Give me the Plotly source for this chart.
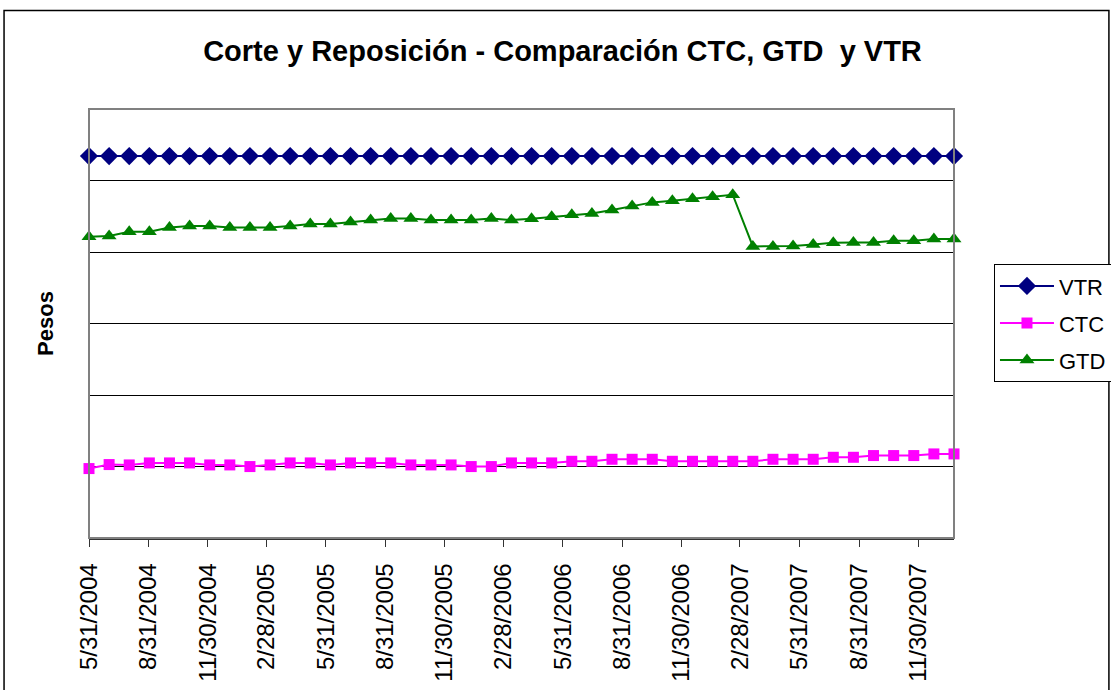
import plotly.graph_objects as go

dates = [
    "2004-05-31", "2004-07-01", "2004-08-01", "2004-09-01", "2004-10-02", "2004-11-02",
    "2004-12-03", "2005-01-03", "2005-02-03", "2005-03-06", "2005-04-06", "2005-05-07",
    "2005-06-07", "2005-07-08", "2005-08-08", "2005-09-08", "2005-10-09", "2005-11-09",
    "2005-12-10", "2006-01-10", "2006-02-10", "2006-03-13", "2006-04-13", "2006-05-14",
    "2006-06-14", "2006-07-15", "2006-08-15", "2006-09-15", "2006-10-16", "2006-11-16",
    "2006-12-17", "2007-01-17", "2007-02-17", "2007-03-20", "2007-04-20", "2007-05-21",
    "2007-06-21", "2007-07-22", "2007-08-22", "2007-09-22", "2007-10-23", "2007-11-23",
    "2007-12-24", "2008-01-24",
]

vtr = [5342] * 44

ctc = [971, 1027, 1022, 1050, 1050, 1050, 1022, 1022, 999, 1022, 1050, 1050,
       1022, 1050, 1050, 1050, 1022, 1022, 1022, 999, 999, 1050, 1050, 1050,
       1073, 1073, 1101, 1101, 1101, 1073, 1073, 1073, 1073, 1073, 1101, 1101,
       1101, 1129, 1129, 1153, 1153, 1153, 1176, 1176]

gtd = [4213, 4225, 4283, 4283, 4344, 4363, 4363, 4344, 4344, 4344, 4363, 4390,
       4390, 4418, 4446, 4470, 4470, 4446, 4446, 4446, 4470, 4446, 4465, 4493,
       4521, 4540, 4586, 4642, 4694, 4717, 4745, 4773, 4801, 4078, 4078, 4083,
       4106, 4129, 4134, 4134, 4157, 4157, 4181, 4181]

tick_dates = ["2004-05-31", "2004-08-31", "2004-11-30", "2005-02-28", "2005-05-31",
              "2005-08-31", "2005-11-30", "2006-02-28", "2006-05-31", "2006-08-31",
              "2006-11-30", "2007-02-28", "2007-05-31", "2007-08-31", "2007-11-30"]
tick_labels = ["5/31/2004", "8/31/2004", "11/30/2004", "2/28/2005", "5/31/2005",
               "8/31/2005", "11/30/2005", "2/28/2006", "5/31/2006", "8/31/2006",
               "11/30/2006", "2/28/2007", "5/31/2007", "8/31/2007", "11/30/2007"]

FONT = "Liberation Sans, Arial, sans-serif"

fig = go.Figure()
fig.add_trace(go.Scatter(x=dates, y=vtr, name="VTR", mode="lines+markers",
                         line=dict(color="#000080", width=2),
                         marker=dict(symbol="diamond", size=14, color="#000080"),
                         cliponaxis=False, legendgroup="a"))
fig.add_trace(go.Scatter(x=dates, y=ctc, name="CTC", mode="lines+markers",
                         line=dict(color="#FF00FF", width=2),
                         marker=dict(symbol="square", size=11, color="#FF00FF"),
                         cliponaxis=False, legendgroup="b"))
fig.add_trace(go.Scatter(x=dates, y=gtd, name="GTD", mode="lines+markers",
                         line=dict(color="#008000", width=2),
                         marker=dict(symbol="triangle-up", size=13, color="#008000"),
                         cliponaxis=False, legendgroup="c"))

PT, PB = 109, 537.7  # plot area top/bottom in page pixels
PL, PR = 88.5, 954
PH = PB - PT
PW = PR - PL

fig.update_layout(
    width=1111, height=690,
    margin=dict(l=PL, r=1111 - PR, t=PT, b=690 - PB, autoexpand=False),
    paper_bgcolor="white", plot_bgcolor="white",
    font=dict(family=FONT, color="black"),
    title=dict(text="<b>Corte y Reposición - Comparación CTC, GTD  y VTR</b>",
               x=562.5 / 1111, xanchor="center", xref="container",
               y=1 - 51 / 690, yanchor="middle", yref="container",
               font=dict(size=29, family=FONT, color="black")),
    showlegend=True,
    legend=dict(x=(994 - PL) / PW, xanchor="left", y=(PB - 264) / PH, yanchor="top",
                bordercolor="black", borderwidth=1, bgcolor="white",
                font=dict(size=22, family=FONT, color="black"),
                tracegroupgap=5.5, traceorder="grouped", itemwidth=54),
    xaxis=dict(type="date", range=["2004-05-31", "2008-01-24"],
               tickmode="array", tickvals=tick_dates, ticktext=tick_labels,
               tickangle=-90, ticks="outside", ticklen=7, tickcolor="#333333",
               tickfont=dict(size=24, family=FONT, color="black"),
               ticklabelstandoff=7,
               showgrid=False, showline=True, linecolor="#333333", linewidth=1.5,
               zeroline=False),
    yaxis=dict(range=[0, 6000], dtick=1000, showticklabels=False, ticks="",
               showgrid=True, gridcolor="black", gridwidth=1,
               showline=False, zeroline=False,
               title=dict(text="<b>Pesos</b>", standoff=28,
                          font=dict(size=22, family=FONT, color="black"))),
)

# plot-area border (gray) and outer chart border
fig.add_shape(type="rect", xref="paper", yref="paper", x0=0, x1=1, y0=0, y1=1,
              line=dict(color="#808080", width=2), layer="above")
fig.add_shape(type="rect", xref="paper", yref="paper",
              x0=(3.5 - PL) / PW, x1=(1109 - PL) / PW,
              y0=(PB - 720) / PH, y1=(PB - 10.5) / PH,
              line=dict(color="black", width=1.5), layer="below")

fig.write_html("out.html", config={"displayModeBar": False},
               post_script="document.body.style.margin='0px';document.body.style.overflow='hidden';")
